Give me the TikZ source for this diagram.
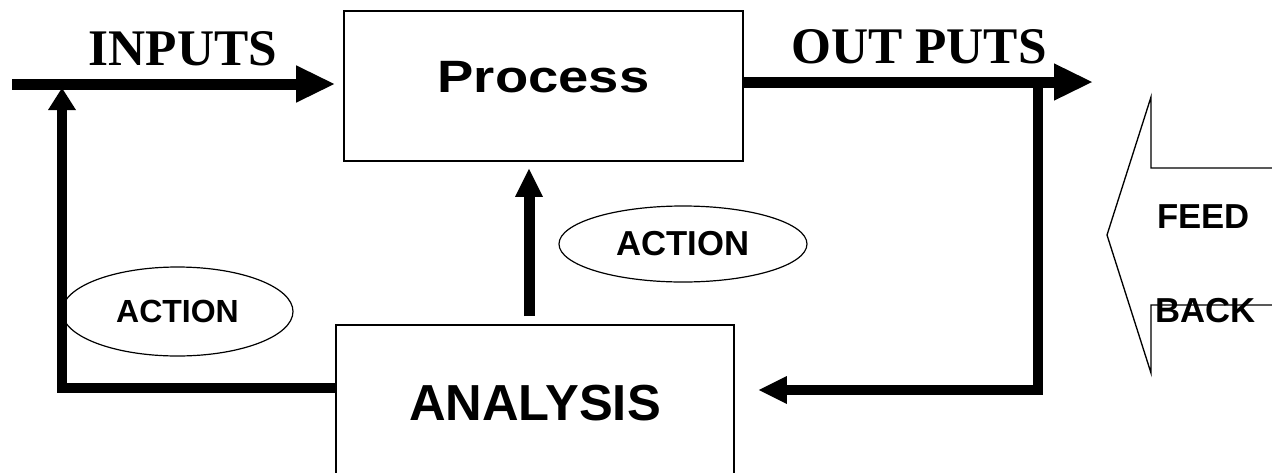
\documentclass[tikz,border=0pt]{standalone}
\usepackage{fontspec}
\setmainfont{Liberation Serif}
\newfontfamily\arialfont{Liberation Sans}
\newfontfamily\widearialfont[FakeStretch=1.2]{Liberation Sans}
\usetikzlibrary{arrows.meta,shapes.geometric}

\tikzset{
  box/.style={draw, line width=1.2pt, inner sep=0pt},
  boxtext/.style={inner sep=0pt, font=\widearialfont\bfseries\fontsize{34pt}{34pt}\selectfont},
  actionoval/.style={draw, ellipse, line width=0.9pt, inner sep=0pt,
    font=\arialfont\bfseries\fontsize{#1}{#1}\selectfont},
  headtext/.style={inner sep=0pt, font=\bfseries\fontsize{38.5pt}{38.5pt}\selectfont},
  fbtext/.style={inner sep=0pt, font=\arialfont\bfseries\fontsize{26pt}{26pt}\selectfont},
  fbshape/.style={line width=1pt, line join=miter},
  flow/.style={line width=8.25pt},
  loopline/.style={line width=7pt, line join=miter},
  bighead/.tip={Triangle[length=28.5pt, width=28pt, line width=0pt]},
  smallhead/.tip={Triangle[length=21pt, width=21pt, line width=0pt]},
  uphead/.tip={Triangle[length=16.5pt, width=21pt, line width=0pt]}
}

\begin{document}
\begin{tikzpicture}[x=0.75pt,y=0.75pt,yscale=-1]
\useasboundingbox (0,0) rectangle (1272,472);

% boxes
\node[box, minimum width=299.25pt, minimum height=112.5pt] (process) at (543.5,86) {};
\node[boxtext, anchor=base] (processlbl) at (543.5,92) {Process};
\node[box, minimum width=298.5pt, minimum height=117.75pt,
  font=\arialfont\bfseries\fontsize{38pt}{38pt}\selectfont] (analysis) at (535,403.5) {ANALYSIS};

% action ovals
\node[actionoval=24pt, minimum width=173.25pt, minimum height=66.75pt] (actleft) at (177.5,311.5) {ACTION};
\node[actionoval=26pt, minimum width=186pt, minimum height=57pt] (actmid) at (683,244) {ACTION};

% titles
\node[headtext, anchor=base] (inlbl) at (183,65) {INPUTS};
\node[headtext, anchor=base] (outlbl) at (919,63) {OUT PUTS};

% free ends and corners
\coordinate (instart) at (12,84);
\coordinate (outend) at (1092,82);
\coordinate (tap) at (1038,82);
\coordinate (rcorner) at (1038,390);
\coordinate (lcorner) at (62,388);
\coordinate (riser) at (529,240);

% flows
\draw[flow, -{bighead}, shorten >=6.75pt] (instart) -- (process.west |- instart);
\draw[flow, -{bighead}] (process.east |- outend) -- (outend);
\draw[flow, -{smallhead}, shorten <=6pt, shorten >=5.25pt] (analysis.north -| riser) -- (process.south -| riser);

% loops
\draw[loopline, -{smallhead}, shorten >=18pt] (tap) -- (rcorner) -- (analysis.east |- rcorner);
\draw[loopline, -{uphead}, shorten >=3pt] (analysis.west |- lcorner) -- (lcorner) -- (lcorner |- instart);

% feed back arrow
\draw[fbshape] (1272,168) -- (1151,168) -- (1151,97) -- (1107,235) -- (1151,373) -- (1151,305) -- (1272,305);
\node[fbtext, anchor=base west] (feedlbl) at (1157,228) {FEED};
\node[fbtext, anchor=base west] (backlbl) at (1155,322) {BACK};

\end{tikzpicture}
\end{document}
